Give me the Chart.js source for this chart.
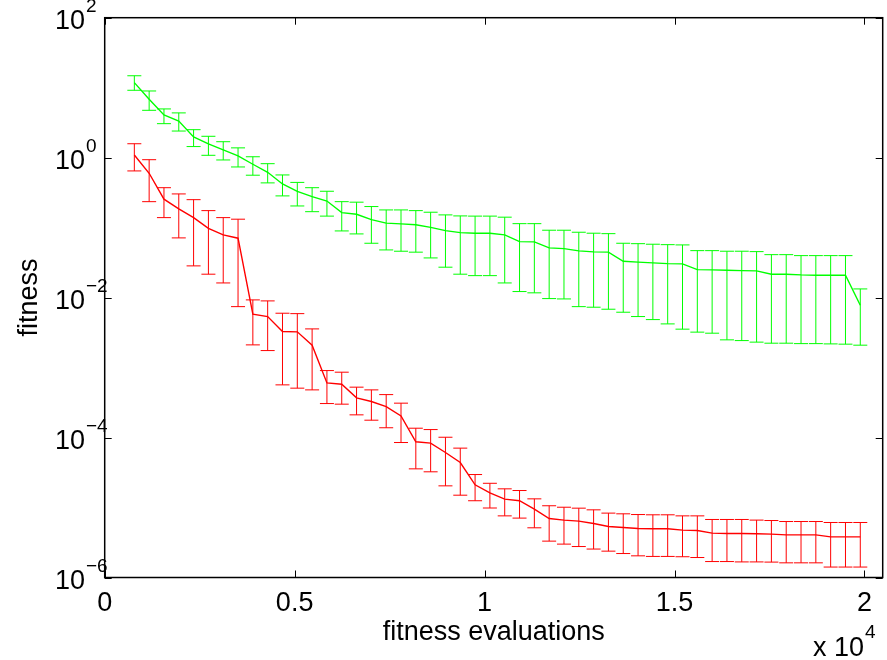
<!DOCTYPE html>
<html>
<head>
<meta charset="utf-8">
<script src="https://cdn.jsdelivr.net/npm/chart.js@4/dist/chart.umd.min.js"></script>
<style>
    html, body { margin: 0; padding: 0; background: #fff; }
    canvas { display: block; }
</style>
</head>
<body>
<canvas id="fitnessChart" width="887" height="660"></canvas>
<script>
// fitness evaluations, in units of 10^4
const evals = [0.078, 0.117, 0.156, 0.195, 0.234, 0.273, 0.312, 0.351, 0.39, 0.429,
    0.468, 0.507, 0.546, 0.585, 0.624, 0.663, 0.702, 0.741, 0.78, 0.819,
    0.858, 0.897, 0.936, 0.975, 1.014, 1.053, 1.092, 1.131, 1.17, 1.209,
    1.248, 1.287, 1.326, 1.365, 1.404, 1.443, 1.482, 1.521, 1.56, 1.599,
    1.638, 1.677, 1.716, 1.755, 1.794, 1.833, 1.872, 1.911, 1.95, 1.989];

// green run
const greenMean = [11.8, 6.82, 4.07, 3.34, 1.98, 1.57, 1.29, 1.06, 0.805, 0.618,
    0.421, 0.329, 0.277, 0.240, 0.164, 0.155, 0.130, 0.116, 0.113, 0.110,
    0.101, 0.0906, 0.0849, 0.0832, 0.0832, 0.0787, 0.0631, 0.0625, 0.0513, 0.0501,
    0.0465, 0.0450, 0.0446, 0.0331, 0.0321, 0.0313, 0.0306, 0.0303, 0.0251, 0.0249,
    0.0246, 0.0243, 0.0241, 0.0216, 0.0216, 0.0211, 0.0209, 0.0209, 0.0209, 0.00778];
const greenHigh = [14.8, 8.97, 4.97, 4.36, 2.51, 2.02, 1.69, 1.38, 1.03, 0.820,
    0.566, 0.443, 0.372, 0.331, 0.235, 0.231, 0.200, 0.179, 0.179, 0.175,
    0.166, 0.152, 0.147, 0.146, 0.146, 0.141, 0.114, 0.114, 0.0918, 0.0918,
    0.0859, 0.0832, 0.0820, 0.0598, 0.0590, 0.0579, 0.0571, 0.0566, 0.0469, 0.0469,
    0.0460, 0.0460, 0.0454, 0.0411, 0.0411, 0.0398, 0.0398, 0.0398, 0.0398, 0.0133];
const greenLow = [9.18, 4.75, 3.06, 2.40, 1.44, 1.08, 0.927, 0.736, 0.561, 0.436,
    0.284, 0.204, 0.169, 0.146, 0.0897, 0.0813, 0.0598, 0.0480, 0.0460, 0.0446,
    0.0369, 0.0272, 0.0216, 0.0206, 0.0206, 0.0162, 0.0122, 0.0117, 0.00968, 0.00957,
    0.00743, 0.00729, 0.00682, 0.00618, 0.00536, 0.00485, 0.00421, 0.00354, 0.00321, 0.00310,
    0.00249, 0.00243, 0.00231, 0.00223, 0.00223, 0.00220, 0.00220, 0.00218, 0.00216, 0.00209];

// red run
const redMean = [1.09, 0.598, 0.255, 0.185, 0.139, 0.0979, 0.0787, 0.0706, 0.00579, 0.00536,
    0.00327, 0.00324, 0.00209, 6.04e-4, 5.79e-4, 3.69e-4, 3.27e-4, 2.77e-4, 2.04e-4, 8.69e-5,
    8.32e-5, 6.11e-5, 4.40e-5, 2.11e-5, 1.62e-5, 1.32e-5, 1.25e-5, 9.48e-6, 6.97e-6, 6.61e-6,
    6.40e-6, 5.90e-6, 5.36e-6, 5.18e-6, 5.01e-6, 4.97e-6, 4.97e-6, 4.75e-6, 4.69e-6, 4.31e-6,
    4.26e-6, 4.26e-6, 4.21e-6, 4.17e-6, 4.07e-6, 4.07e-6, 4.07e-6, 3.81e-6, 3.81e-6, 3.81e-6];
const redHigh = [1.58, 0.935, 0.372, 0.303, 0.251, 0.175, 0.139, 0.132, 0.00927, 0.00897,
    0.00598, 0.00590, 0.00357, 9.06e-4, 8.59e-4, 5.25e-4, 4.80e-4, 4.11e-4, 3.10e-4, 1.36e-4,
    1.30e-4, 1.01e-4, 7.06e-5, 2.96e-5, 2.22e-5, 1.85e-5, 1.75e-5, 1.33e-5, 1.06e-5, 1.01e-5,
    9.79e-6, 9.27e-6, 8.32e-6, 8.13e-6, 7.94e-6, 7.87e-6, 7.87e-6, 7.60e-6, 7.60e-6, 6.75e-6,
    6.75e-6, 6.75e-6, 6.61e-6, 6.52e-6, 6.31e-6, 6.31e-6, 6.31e-6, 6.11e-6, 6.11e-6, 6.11e-6];
const redLow = [0.646, 0.235, 0.139, 0.0713, 0.0284, 0.0216, 0.0162, 0.00743, 0.00211, 0.00175,
    5.66e-4, 5.08e-4, 4.80e-4, 3.06e-4, 3.00e-4, 2.11e-4, 1.77e-4, 1.38e-4, 8.49e-5, 3.57e-5,
    3.24e-5, 2.04e-5, 1.50e-5, 1.25e-5, 9.84e-6, 7.60e-6, 7.06e-6, 5.13e-6, 3.31e-6, 3.00e-6,
    2.77e-6, 2.55e-6, 2.38e-6, 2.20e-6, 2.04e-6, 2.00e-6, 2.00e-6, 1.98e-6, 1.93e-6, 1.69e-6,
    1.69e-6, 1.67e-6, 1.67e-6, 1.66e-6, 1.62e-6, 1.62e-6, 1.62e-6, 1.41e-6, 1.41e-6, 1.41e-6];

// axes
const xTicks = [0, 0.5, 1, 1.5, 2];
const xTickLabels = ['0', '0.5', '1', '1.5', '2'];
const yTicks = [1e2, 1e0, 1e-2, 1e-4, 1e-6];
const yTickExps = ['2', '0', '\u22122', '\u22124', '\u22126'];

const FONT = '"Liberation Sans", Arial, Helvetica, sans-serif';

function toPoints(ys) {
    return evals.map(function (x, i) { return { x: x, y: ys[i] }; });
}

// white page behind the plot
const background = {
    id: 'background',
    beforeDraw: function (chart) {
        const ctx = chart.ctx;
        ctx.save();
        ctx.fillStyle = '#fff';
        ctx.fillRect(0, 0, chart.width, chart.height);
        ctx.restore();
    }
};

// matlab style error bars with caps
const errorBars = {
    id: 'errorBars',
    afterDatasetsDraw: function (chart) {
        const ctx = chart.ctx;
        const xs = chart.scales.x;
        const ys = chart.scales.y;
        const cap = 7;
        ctx.save();
        chart.data.datasets.forEach(function (ds) {
            ctx.strokeStyle = ds.borderColor;
            ctx.lineWidth = 1;
            ctx.beginPath();
            evals.forEach(function (x, i) {
                const px = xs.getPixelForValue(x);
                const top = ys.getPixelForValue(ds.errHigh[i]);
                const bot = ys.getPixelForValue(ds.errLow[i]);
                ctx.moveTo(px, top);
                ctx.lineTo(px, bot);
                ctx.moveTo(px - cap, top);
                ctx.lineTo(px + cap, top);
                ctx.moveTo(px - cap, bot);
                ctx.lineTo(px + cap, bot);
            });
            ctx.stroke();
        });
        ctx.restore();
    }
};

// box, inward ticks and labels
const matlabAxes = {
    id: 'matlabAxes',
    afterDraw: function (chart) {
        const ctx = chart.ctx;
        const a = chart.chartArea;
        const xs = chart.scales.x;
        const ys = chart.scales.y;
        const tick = 7;
        ctx.save();
        ctx.strokeStyle = '#000';
        ctx.lineWidth = 1.5;
        ctx.strokeRect(a.left, a.top, a.right - a.left, a.bottom - a.top);

        ctx.lineWidth = 1;
        ctx.beginPath();
        xTicks.forEach(function (v) {
            const px = Math.round(xs.getPixelForValue(v)) + 0.5;
            ctx.moveTo(px, a.bottom);
            ctx.lineTo(px, a.bottom - tick);
            ctx.moveTo(px, a.top);
            ctx.lineTo(px, a.top + tick);
        });
        yTicks.forEach(function (v) {
            const py = Math.round(ys.getPixelForValue(v)) + 0.5;
            ctx.moveTo(a.left, py);
            ctx.lineTo(a.left + tick, py);
            ctx.moveTo(a.right, py);
            ctx.lineTo(a.right - tick, py);
        });
        ctx.stroke();

        ctx.fillStyle = '#000';
        ctx.textBaseline = 'alphabetic';

        // x tick labels
        ctx.font = '27px ' + FONT;
        ctx.textAlign = 'center';
        xTicks.forEach(function (v, i) {
            ctx.fillText(xTickLabels[i], xs.getPixelForValue(v), a.bottom + 33);
        });

        // y tick labels: 10 with superscript exponent
        yTicks.forEach(function (v, i) {
            const py = ys.getPixelForValue(v);
            ctx.font = '27px ' + FONT;
            ctx.textAlign = 'right';
            ctx.fillText('10', 85, py + 11);
            ctx.font = '19px ' + FONT;
            ctx.textAlign = 'left';
            ctx.fillText(yTickExps[i], 86, py - 6);
        });

        // axis titles
        ctx.font = '27px ' + FONT;
        ctx.textAlign = 'center';
        ctx.fillText('fitness evaluations', (a.left + a.right) / 2, a.bottom + 62);

        ctx.textAlign = 'right';
        ctx.fillText('x 10', 864, 656);
        ctx.font = '19px ' + FONT;
        ctx.textAlign = 'left';
        ctx.fillText('4', 865, 638);

        ctx.font = '27px ' + FONT;
        ctx.textAlign = 'center';
        ctx.translate(37, (a.top + a.bottom) / 2);
        ctx.rotate(-Math.PI / 2);
        ctx.fillText('fitness', 0, 0);
        ctx.restore();
    }
};

new Chart(document.getElementById('fitnessChart').getContext('2d'), {
    type: 'line',
    data: {
        datasets: [{
            label: 'red',
            data: toPoints(redMean),
            errLow: redLow,
            errHigh: redHigh,
            borderColor: '#ff0000',
            borderWidth: 1.4,
            pointRadius: 0,
            tension: 0,
            fill: false
        }, {
            label: 'green',
            data: toPoints(greenMean),
            errLow: greenLow,
            errHigh: greenHigh,
            borderColor: '#00ff00',
            borderWidth: 1.4,
            pointRadius: 0,
            tension: 0,
            fill: false
        }]
    },
    options: {
        responsive: false,
        animation: false,
        events: [],
        layout: {
            padding: { left: 104.7, right: 4.3, top: 17.7, bottom: 82.5 }
        },
        scales: {
            x: { type: 'linear', min: 0, max: 2.048, display: false },
            y: { type: 'logarithmic', min: 1e-6, max: 1e2, display: false }
        },
        plugins: {
            legend: { display: false },
            tooltip: { enabled: false }
        }
    },
    plugins: [background, errorBars, matlabAxes]
});
</script>
</body>
</html>
